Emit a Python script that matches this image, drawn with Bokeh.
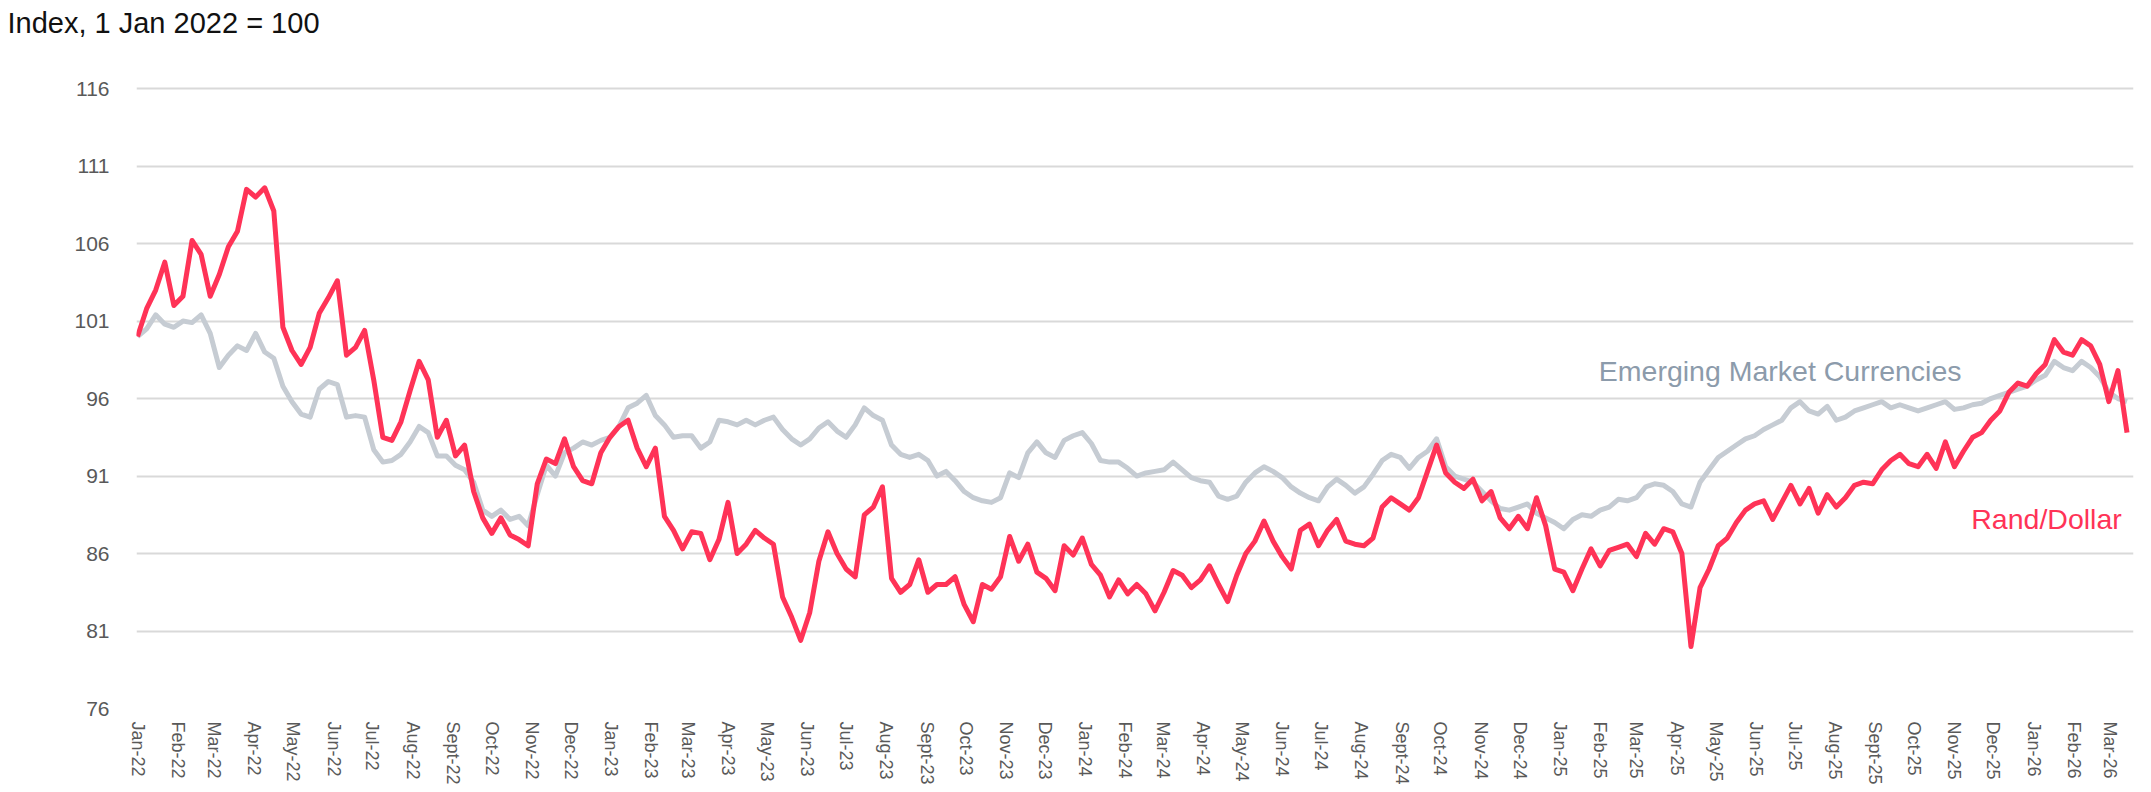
import numpy as np
import pandas as pd
from bokeh.plotting import figure
from bokeh.models import FixedTicker, Label, Range1d, Title
from bokeh.embed import file_html
from bokeh.resources import INLINE

# ---------------- data (weekly readings, index 1 Jan 2022 = 100) ----------------
start_date = "2022-01-01"

rand_dollar = [
    100.0, 101.8, 103.0, 104.8, 102.0, 102.6, 106.2, 105.3, 102.6, 104.0,
    105.8, 106.8, 109.5, 109.0, 109.6, 108.1, 100.6, 99.1, 98.2, 99.3,
    101.5, 102.5, 103.6, 98.8, 99.3, 100.4, 97.2, 93.5, 93.3, 94.5,
    96.5, 98.4, 97.2, 93.5, 94.6, 92.3, 93.0, 90.0, 88.3, 87.3,
    88.3, 87.2, 86.9, 86.5, 90.5, 92.1, 91.8, 93.4, 91.6, 90.7,
    90.5, 92.5, 93.5, 94.2, 94.6, 92.8, 91.6, 92.8, 88.4, 87.5,
    86.3, 87.4, 87.3, 85.6, 86.9, 89.3, 86.0, 86.6, 87.5, 87.0,
    86.6, 83.2, 81.9, 80.4, 82.2, 85.5, 87.4, 86.0, 85.0, 84.5,
    88.5, 89.0, 90.3, 84.4, 83.5, 84.0, 85.6, 83.5, 84.0, 84.0,
    84.5, 82.7, 81.6, 84.0, 83.7, 84.5, 87.1, 85.5, 86.6, 84.8,
    84.4, 83.6, 86.5, 85.9, 87.0, 85.3, 84.6, 83.2, 84.3, 83.4,
    84.0, 83.4, 82.3, 83.5, 84.9, 84.6, 83.8, 84.3, 85.2, 84.0,
    82.9, 84.6, 86.0, 86.8, 88.1, 86.8, 85.8, 85.0, 87.5, 87.9,
    86.5, 87.5, 88.2, 86.8, 86.6, 86.5, 87.0, 89.0, 89.6, 89.2,
    88.8, 89.6, 91.3, 93.0, 91.2, 90.6, 90.2, 90.8, 89.4, 90.0,
    88.3, 87.6, 88.4, 87.6, 89.6, 87.8, 85.0, 84.8, 83.6, 85.0,
    86.3, 85.2, 86.2, 86.4, 86.6, 85.8, 87.3, 86.6, 87.6, 87.4,
    86.0, 80.0, 83.8, 85.0, 86.5, 87.0, 88.0, 88.8, 89.2, 89.4,
    88.2, 89.3, 90.4, 89.2, 90.2, 88.6, 89.8, 89.0, 89.6, 90.4,
    90.6, 90.5, 91.4, 92.0, 92.4, 91.8, 91.6, 92.4, 91.5, 93.2,
    91.6, 92.6, 93.5, 93.8, 94.6, 95.2, 96.4, 97.0, 96.8, 97.6,
    98.2, 99.8, 99.0, 98.8, 99.8, 99.4, 98.2, 95.8, 97.8, 93.8,
]

em_currencies = [
    100.0, 100.5, 101.4, 100.8, 100.6, 101.0, 100.9, 101.4, 100.2, 98.0,
    98.8, 99.4, 99.1, 100.2, 99.0, 98.6, 96.8, 95.8, 95.0, 94.8,
    96.6, 97.1, 96.9, 94.8, 94.9, 94.8, 92.7, 91.9, 92.0, 92.4,
    93.2, 94.2, 93.8, 92.3, 92.3, 91.7, 91.4, 90.6, 88.8, 88.4,
    88.8, 88.2, 88.4, 87.8, 89.8, 91.7, 91.0, 92.5, 92.8, 93.2,
    93.0, 93.3, 93.5, 94.2, 95.4, 95.7, 96.2, 94.9, 94.3, 93.5,
    93.6, 93.6, 92.8, 93.2, 94.6, 94.5, 94.3, 94.6, 94.3, 94.6,
    94.8, 94.0, 93.4, 93.0, 93.4, 94.1, 94.5, 93.9, 93.5, 94.3,
    95.4, 94.9, 94.6, 93.0, 92.4, 92.2, 92.4, 92.0, 91.0, 91.3,
    90.7, 90.0, 89.6, 89.4, 89.3, 89.6, 91.2, 90.9, 92.5, 93.2,
    92.5, 92.2, 93.3, 93.6, 93.8, 93.1, 92.0, 91.9, 91.9, 91.5,
    91.0, 91.2, 91.3, 91.4, 91.9, 91.4, 90.9, 90.7, 90.6, 89.7,
    89.5, 89.7, 90.6, 91.2, 91.6, 91.3, 90.9, 90.3, 89.9, 89.6,
    89.4, 90.3, 90.8, 90.4, 89.9, 90.3, 91.1, 92.0, 92.4, 92.2,
    91.5, 92.2, 92.6, 93.4, 91.6, 91.0, 90.8, 90.6, 90.0, 89.4,
    88.9, 88.8, 89.0, 89.2, 88.6, 88.3, 88.0, 87.6, 88.2, 88.5,
    88.4, 88.8, 89.0, 89.5, 89.4, 89.6, 90.3, 90.5, 90.4, 90.0,
    89.2, 89.0, 90.6, 91.4, 92.2, 92.6, 93.0, 93.4, 93.6, 94.0,
    94.3, 94.6, 95.4, 95.8, 95.2, 95.0, 95.5, 94.6, 94.8, 95.2,
    95.4, 95.6, 95.8, 95.4, 95.6, 95.4, 95.2, 95.4, 95.6, 95.8,
    95.3, 95.4, 95.6, 95.7, 96.0, 96.2, 96.4, 96.6, 96.8, 97.2,
    97.5, 98.4, 98.0, 97.8, 98.4, 98.0, 97.4, 96.4, 96.0, 95.8,
]

y_ticks = [76, 81, 86, 91, 96, 101, 106, 111, 116]
month_names = ["Jan", "Feb", "Mar", "Apr", "May", "Jun",
               "Jul", "Aug", "Sept", "Oct", "Nov", "Dec"]
first_tick_month = "2022-01-01"
last_tick_month = "2026-03-01"

title_text = "Index, 1 Jan 2022 = 100"
label_em = "Emerging Market Currencies"
label_rand = "Rand/Dollar"

# ---------------- build ----------------
def to_ms(ts):
    return float(pd.Timestamp(ts).value // 10**6)

dates = pd.date_range(start_date, periods=len(rand_dollar), freq="7D")
x = [to_ms(d) for d in dates]

months = pd.date_range(first_tick_month, last_tick_month, freq="MS")
tick_ms = [to_ms(m) for m in months]
tick_labels = {t: f"{month_names[m.month - 1]}-{m.strftime('%y')}" for t, m in zip(tick_ms, months)}

DAY = 86400000.0
RED = "#FF3357"
GREY = "#C6CCD3"
FONT = "Liberation Sans"

p = figure(width=2151, height=792, output_backend="svg", toolbar_location=None,
           title=None,
           x_range=Range1d(to_ms("2022-01-01") - 0.8 * DAY, to_ms("2026-03-19")),
           y_range=Range1d(76, 116.2),
           min_border_left=136, min_border_right=18,
           min_border_top=85, min_border_bottom=84)
p.outline_line_color = None
p.background_fill_color = "white"
p.border_fill_color = "white"

# spacer panel next to the frame, then the visible title above it
spacer = Title(text=" ", text_font_size="1px", standoff=44)
main_title = Title(text=title_text, align="left", offset=-129, standoff=0,
                   text_font=FONT, text_font_size="29px", text_font_style="normal",
                   text_color="#111111")
p.add_layout(spacer, "above")
p.add_layout(main_title, "above")

p.yaxis.ticker = FixedTicker(ticks=y_ticks)
p.yaxis.axis_line_color = None
p.yaxis.major_tick_line_color = None
p.yaxis.minor_tick_line_color = None
p.yaxis.major_label_standoff = 21
p.yaxis.major_label_text_font = FONT
p.yaxis.major_label_text_font_size = "21px"
p.yaxis.major_label_text_color = "#595959"

p.xaxis.ticker = FixedTicker(ticks=tick_ms)
p.xaxis.major_label_overrides = tick_labels
p.xaxis.major_label_orientation = "vertical"
p.xaxis.axis_line_color = None
p.xaxis.major_tick_line_color = None
p.xaxis.minor_tick_line_color = None
p.xaxis.major_label_standoff = 7
p.xaxis.major_label_text_font = FONT
p.xaxis.major_label_text_font_size = "18px"
p.xaxis.major_label_text_color = "#595959"

p.xgrid.grid_line_color = None
p.ygrid.grid_line_color = "#D9D9D9"
p.ygrid.grid_line_width = 2

p.line(x, em_currencies, line_color=GREY, line_width=5, line_join="round")
p.line(x, rand_dollar, line_color=RED, line_width=5, line_join="round")

p.add_layout(Label(x=to_ms("2025-01-31"), y=97.8, text=label_em,
                   text_font=FONT, text_font_size="28.5px",
                   text_color="#8C9BAB", text_baseline="middle"))
p.add_layout(Label(x=to_ms("2025-11-14"), y=88.2, text=label_rand,
                   text_font=FONT, text_font_size="28.5px",
                   text_color=RED, text_baseline="middle"))

open("out.html", "w").write(file_html(p, INLINE))
